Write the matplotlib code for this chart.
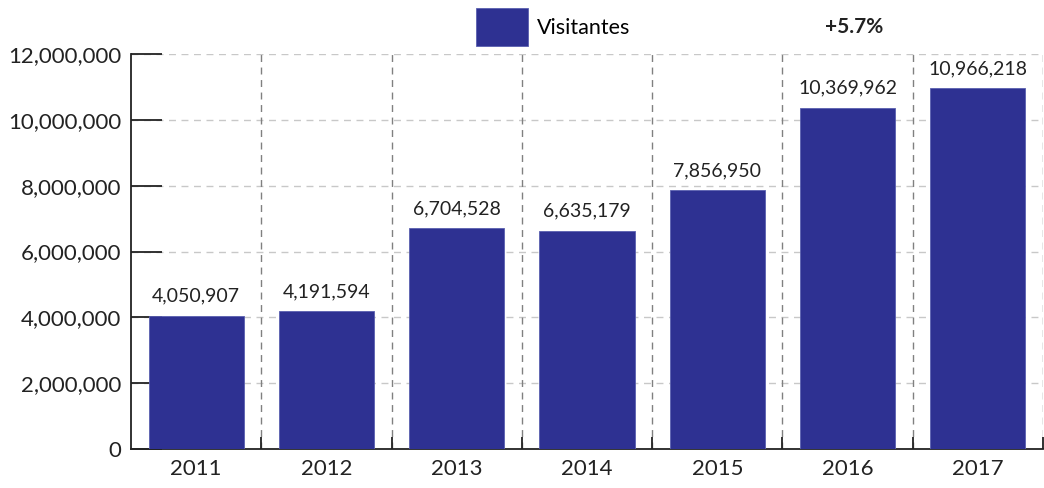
import matplotlib
matplotlib.use("Agg")
import matplotlib.pyplot as plt
from matplotlib.ticker import FuncFormatter

plt.rcParams['font.family'] = ['Lato', 'DejaVu Sans']

years = ["2011", "2012", "2013", "2014", "2015", "2016", "2017"]
visitantes = [4050907, 4191594, 6704528, 6635179, 7856950, 10369962, 10966218]
growth_label = "+5.7%"

bar_color = "#2E3192"

fig = plt.figure(figsize=(10.44, 4.88), dpi=100)
ax = fig.add_axes([0.1255, 0.080, 0.8735, 0.809])

x = range(len(years))
bars = ax.bar(x, visitantes, width=0.73, color=bar_color, edgecolor="#5a5fb0",
              linewidth=0.6, label="Visitantes", zorder=3)

for xi, v in zip(x, visitantes):
    ax.annotate(f"{v:,}", (xi, v), xytext=(0, 8), textcoords="offset points",
                ha="center", va="bottom", fontsize=14, color="#222222")

ax.set_xlim(-0.5, len(years) - 0.5)
ax.set_ylim(0, 12000000)
ax.set_yticks(range(0, 12000001, 2000000))
ax.yaxis.set_major_formatter(FuncFormatter(lambda v, p: f"{int(v):,}"))

# category labels in the middle, ticks on boundaries
ax.set_xticks(list(x))
ax.set_xticklabels(years)
ax.tick_params(axis="x", which="major", length=0, labelsize=16, pad=7, colors="#222222")
ax.set_xticks([i + 0.5 for i in x], minor=True)
ax.tick_params(axis="x", which="minor", direction="in", length=9, width=1.3, color="#222222")
ax.tick_params(axis="y", direction="in", length=22, width=1.3, labelsize=16,
               pad=7, colors="#222222")

# grid
for yv in range(2000000, 12000001, 2000000):
    ax.axhline(yv, color="#c8c8c8", linestyle=(0, (5, 4)), linewidth=1, zorder=1)
for i in x:
    ax.axvline(i + 0.5, color="#808080", linestyle=(0, (5, 4)), linewidth=1, zorder=1)

for s in ["top", "right"]:
    ax.spines[s].set_visible(False)
for s in ["left", "bottom"]:
    ax.spines[s].set_linewidth(1.3)
    ax.spines[s].set_color("#222222")

leg = ax.legend(loc="center", bbox_to_anchor=(0.463, 1.069), frameon=False,
                fontsize=15.5, handlelength=2.4, handleheight=2.3, handletextpad=0.4,
                borderaxespad=0, borderpad=0)

ax.text(5.05, 1.069, growth_label, transform=ax.get_xaxis_transform(), ha="center",
        va="center", fontsize=15, fontweight="bold", color="#222222")

fig.savefig("out.png", dpi=100)
